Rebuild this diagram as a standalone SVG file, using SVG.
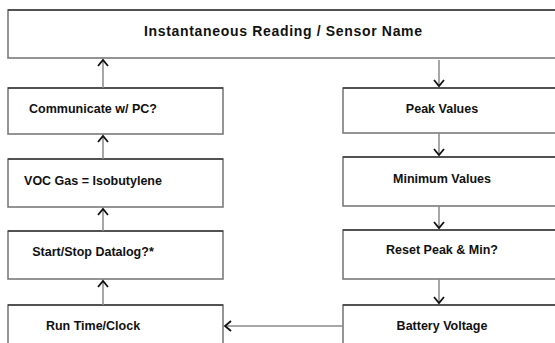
<svg xmlns="http://www.w3.org/2000/svg" width="555" height="343" viewBox="0 0 555 343">
<style>
.box{fill:#fff;stroke:#7a7a7a;stroke-width:1.6}
.top{stroke:#111;stroke-width:1.2}
.lbl{font-family:"Liberation Sans",Arial,sans-serif;font-weight:bold;font-size:12.5px;fill:#111;text-anchor:middle;dominant-baseline:central}
.big{font-size:14px}
.conn{stroke:#8a8a8a;stroke-width:1.5;fill:none}
.ah{stroke:#111;stroke-width:1.8;fill:none}
</style>
<rect width="555" height="343" fill="#fff"/>
<g id="n-instant">
<rect class="box" x="8" y="10" width="560" height="48"/>
<line class="top" x1="8" y1="10" x2="555" y2="10"/>
<text class="lbl big" x="283" y="31" textLength="278" lengthAdjust="spacing">Instantaneous Reading / Sensor Name</text>
</g>
<g id="n-communicate">
<rect class="box" x="8" y="88" width="215" height="46"/>
<line class="top" x1="8" y1="88" x2="223" y2="88"/>
<text class="lbl" x="93" y="109">Communicate w/ PC?</text>
</g>
<g id="n-voc">
<rect class="box" x="8" y="159" width="215" height="48"/>
<line class="top" x1="8" y1="159" x2="223" y2="159"/>
<text class="lbl" x="93" y="181">VOC Gas = Isobutylene</text>
</g>
<g id="n-datalog">
<rect class="box" x="8" y="231" width="215" height="48"/>
<line class="top" x1="8" y1="231" x2="223" y2="231"/>
<text class="lbl" x="93" y="252">Start/Stop Datalog?*</text>
</g>
<g id="n-runtime">
<rect class="box" x="8" y="305" width="215" height="48"/>
<line class="top" x1="8" y1="305" x2="223" y2="305"/>
<text class="lbl" x="93" y="326">Run Time/Clock</text>
</g>
<g id="n-peak">
<rect class="box" x="343" y="88" width="225" height="45"/>
<line class="top" x1="343" y1="88" x2="555" y2="88"/>
<text class="lbl" x="442" y="109">Peak Values</text>
</g>
<g id="n-min">
<rect class="box" x="343" y="157" width="225" height="49"/>
<line class="top" x1="343" y1="157" x2="555" y2="157"/>
<text class="lbl" x="442" y="179">Minimum Values</text>
</g>
<g id="n-reset">
<rect class="box" x="343" y="230" width="225" height="49"/>
<line class="top" x1="343" y1="230" x2="555" y2="230"/>
<text class="lbl" x="442" y="250">Reset Peak &amp; Min?</text>
</g>
<g id="n-battery">
<rect class="box" x="343" y="305" width="225" height="48"/>
<line class="top" x1="343" y1="305" x2="555" y2="305"/>
<text class="lbl" x="442" y="326">Battery Voltage</text>
</g>
<g id="connectors">
<line class="conn" x1="103" y1="88" x2="103" y2="60"/>
<polyline class="ah" points="98,66 103,60 108,66"/>
<line class="conn" x1="103" y1="159" x2="103" y2="136"/>
<polyline class="ah" points="98,142 103,136 108,142"/>
<line class="conn" x1="103" y1="231" x2="103" y2="209"/>
<polyline class="ah" points="98,215 103,209 108,215"/>
<line class="conn" x1="103" y1="305" x2="103" y2="281"/>
<polyline class="ah" points="98,287 103,281 108,287"/>
<line class="conn" x1="439" y1="60" x2="439" y2="86"/>
<polyline class="ah" points="434,80 439,86 444,80"/>
<line class="conn" x1="439" y1="133" x2="439" y2="155"/>
<polyline class="ah" points="434,149 439,155 444,149"/>
<line class="conn" x1="439" y1="206" x2="439" y2="228"/>
<polyline class="ah" points="434,222 439,228 444,222"/>
<line class="conn" x1="439" y1="279" x2="439" y2="303"/>
<polyline class="ah" points="434,297 439,303 444,297"/>
<line class="conn" x1="343" y1="326" x2="225" y2="326"/>
<polyline class="ah" points="231,321 225,326 231,331"/>
</g>
</svg>
